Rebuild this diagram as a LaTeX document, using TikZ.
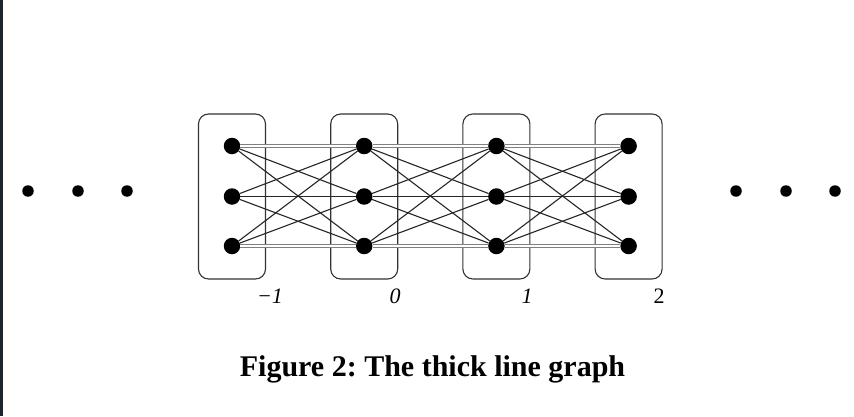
\documentclass[tikz,border=0pt]{standalone}
\usepackage{fontspec}
\setmainfont{Liberation Serif}
\begin{document}
\begin{tikzpicture}[x=1pt,y=1pt,
  vert/.style={circle,fill=black,inner sep=0pt,minimum size=16.5pt},
  dotn/.style={circle,fill=black,inner sep=0pt,minimum size=11.5pt},
  grp/.style={draw=black!80,line width=1.1pt,rounded corners=10pt,minimum width=67pt,minimum height=165pt,inner sep=0pt},
  edge/.style={line width=1.1pt,draw=black!85},
  dbl/.style={draw=black!50,line width=1pt,double=white,double distance=2pt},
  lab/.style={font=\fontsize{22}{22}\selectfont\itshape,anchor=base,inner sep=0pt},
  labup/.style={font=\fontsize{22}{22}\selectfont,anchor=base,inner sep=0pt},
]
\useasboundingbox (0,0) rectangle (854,416);
\fill[white] (0,0) rectangle (854,416);
\fill[fill={rgb,255:red,28;green,36;blue,48}] (0,0) rectangle (3,416);
\foreach \i in {0,1,2,3}{
  \node[grp] (b\i) at ({232+132.2*\i},219.5) {};
  \foreach \j/\y in {1/270,2/219.5,3/170}
    \node[vert] (v\i\j) at ({232+132.2*\i},\y) {};
}
\foreach \i/\k in {0/1,1/2,2/3}{
  \foreach \j/\l in {1/2,1/3,2/1,2/3,3/1,3/2}
    \draw[edge] (v\i\j) -- (v\k\l);
  \draw[dbl] (v\i1) -- (v\k1);
  \draw[edge] (v\i2) -- (v\k2);
  \draw[dbl] (v\i3) -- (v\k3);
}
\foreach \n/\x in {a/28,b/78,c/127,d/736,e/786,f/835}
  \node[dotn] (d\n) at (\x,225) {};
\node[lab] (l0) at (270,113) {−1};
\node[lab] (l1) at (395,113) {0};
\node[lab] (l2) at (527,113) {1};
\node[labup] (l3) at (659,113) {2};
\node[font=\fontsize{30}{30}\selectfont\bfseries,anchor=base,inner sep=0pt] (cap) at (432.5,40) {Figure 2:\ The thick line graph};
\end{tikzpicture}
\end{document}
